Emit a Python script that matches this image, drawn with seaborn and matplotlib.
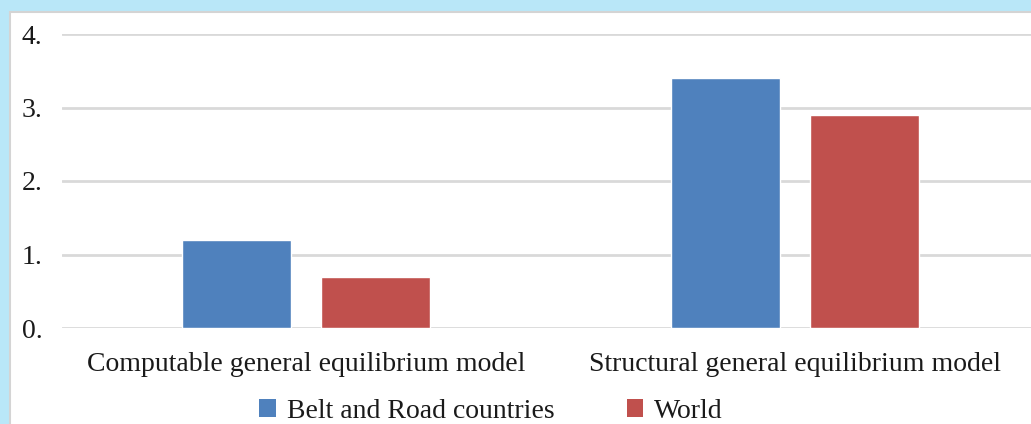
import matplotlib
matplotlib.use("Agg")
import matplotlib.pyplot as plt
import matplotlib.patches as mpatches
import seaborn as sns
import pandas as pd

categories = ["Computable general equilibrium model", "Structural general equilibrium model"]
series = ["Belt and Road countries", "World"]
belt_road = [1.2, 3.4]
world = [0.7, 2.9]
yticks = [0, 1, 2, 3, 4]
ytick_labels = ["0.", "1.", "2.", "3.", "4."]
colors = ["#4f81bd", "#c0504d"]

df = pd.DataFrame({
    "model": categories * 2,
    "series": [series[0]] * 2 + [series[1]] * 2,
    "value": belt_road + world,
})

sns.set_theme(style="white")
plt.rcParams["font.family"] = ["Liberation Serif", "DejaVu Serif"]

W, H = 1031, 424
fig = plt.figure(figsize=(W / 100, H / 100), dpi=100)
fig.patch.set_facecolor("#b9e7f8")
# white panel with grey border
panel = mpatches.Rectangle((10 / W, -0.01), 1.0, 1 - 12 / H + 0.01, transform=fig.transFigure,
                           facecolor="white", edgecolor="#d4d4d4", linewidth=1.5, zorder=-5)
fig.patches.append(panel)

ax = fig.add_axes([61.5 / W, 96 / H, 978 / W, 294 / H])
ax.set_zorder(2)
ax.set_facecolor("none")
sns.barplot(data=df, x="model", y="value", hue="series", hue_order=series, order=categories,
            palette=colors, width=0.572, gap=0.22, saturation=1, ax=ax, legend=False)
ax.set_xlim(-0.5, 1.5)
ax.set_ylim(0, 4)
ax.set_yticks(yticks)
ax.set_yticklabels(ytick_labels)
ax.yaxis.grid(True, color="#d9d9d9", linewidth=2)
ax.set_axisbelow(True)
for s in ax.spines.values():
    s.set_visible(False)
ax.set_xlabel("")
ax.set_ylabel("")
ax.tick_params(axis="y", length=0, pad=28.5, labelsize=20, colors="#1a1a1a")
ax.tick_params(axis="x", length=0, pad=17.5, labelsize=20, colors="#1a1a1a")
plt.setp(ax.get_yticklabels(), ha="left")

handles = [mpatches.Patch(facecolor=c, edgecolor="none") for c in colors]
fig.legend(handles, series, loc="center", bbox_to_anchor=(491 / W, 13 / H), ncol=2, frameon=False,
           fontsize=20, handlelength=0.6, handleheight=0.6, handletextpad=0.4, columnspacing=2.6,
           labelcolor="#1a1a1a", borderpad=0.2)

fig.savefig("out.png", dpi=100, facecolor=fig.get_facecolor())
